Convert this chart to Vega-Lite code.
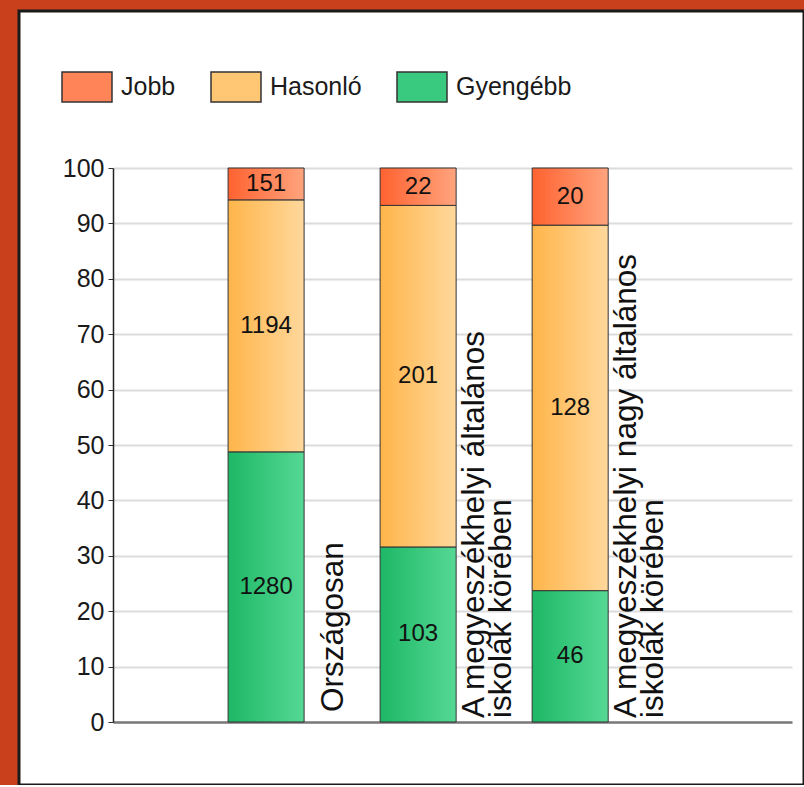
{
  "$schema": "https://vega.github.io/schema/vega-lite/v6.json",
  "autosize": "none",
  "padding": {"left": 19, "top": 11, "right": 0, "bottom": 0},
  "width": 785,
  "height": 774,
  "background": "#C9401C",
  "config": {
    "view": {"fill": "white", "stroke": "#1a1a1a", "strokeWidth": 3},
    "font": "Liberation Sans"
  },
  "data": {
    "values": [
      {"cat": "Országosan", "s": "Gyengébb", "n": 1280},
      {"cat": "Országosan", "s": "Hasonló", "n": 1194},
      {"cat": "Országosan", "s": "Jobb", "n": 151},
      {"cat": "A megyeszékhelyi általános\niskolák körében", "s": "Gyengébb", "n": 103},
      {"cat": "A megyeszékhelyi általános\niskolák körében", "s": "Hasonló", "n": 201},
      {"cat": "A megyeszékhelyi általános\niskolák körében", "s": "Jobb", "n": 22},
      {"cat": "A megyeszékhelyi nagy általános\niskolák körében", "s": "Gyengébb", "n": 46},
      {"cat": "A megyeszékhelyi nagy általános\niskolák körében", "s": "Hasonló", "n": 128},
      {"cat": "A megyeszékhelyi nagy általános\niskolák körében", "s": "Jobb", "n": 20}
    ]
  },
  "encoding": {
    "x": {
      "field": "cat", "type": "nominal", "sort": null,
      "scale": {"type": "band", "range": [94, 773], "paddingInner": 0.5, "paddingOuter": 0.983, "align": 0.385},
      "axis": null
    }
  },
  "layer": [
    {
      "mark": {"type": "bar", "stroke": "#333333", "strokeWidth": 1},
      "encoding": {
        "y": {
          "field": "n", "type": "quantitative", "stack": "normalize",
          "scale": {"domain": [0, 1], "range": [711, 157], "nice": false},
          "axis": {
            "title": null,
            "offset": -94,
            "values": [0, 0.1, 0.2, 0.3, 0.4, 0.5, 0.6, 0.7, 0.8, 0.9, 1],
            "labelExpr": "format(round(datum.value*100),'d')",
            "labelFont": "Liberation Sans",
            "labelFontSize": 25,
            "labelColor": "#1a1a1a",
            "labelPadding": 4,
            "tickSize": 5,
            "tickColor": "#333333",
            "domainColor": "#222222",
            "domainWidth": 1.5,
            "grid": true,
            "gridColor": {"condition": {"test": "datum.value === 0", "value": "#777777"}, "value": "#dcdcdc"},
            "gridWidth": {"condition": {"test": "datum.value === 0", "value": 2.5}, "value": 2}
          }
        },
        "order": {"field": "s", "sort": "ascending"},
        "color": {
          "field": "s", "type": "nominal",
          "scale": {"domain": ["Jobb", "Hasonló", "Gyengébb"], "range": ["#FF8458", "#FFC774", "#3ACA7F"]},
          "condition": [
            {"test": "datum.s === 'Jobb'", "value": {"gradient": "linear", "x1": 0, "y1": 0, "x2": 1, "y2": 0, "stops": [{"offset": 0, "color": "#FF6230"}, {"offset": 1, "color": "#FFA47E"}]}},
            {"test": "datum.s === 'Hasonló'", "value": {"gradient": "linear", "x1": 0, "y1": 0, "x2": 1, "y2": 0, "stops": [{"offset": 0, "color": "#FFB54A"}, {"offset": 1, "color": "#FFD89C"}]}},
            {"test": "datum.s === 'Gyengébb'", "value": {"gradient": "linear", "x1": 0, "y1": 0, "x2": 1, "y2": 0, "stops": [{"offset": 0, "color": "#1DB866"}, {"offset": 1, "color": "#55D894"}]}}
          ],
          "legend": {
            "title": null,
            "orient": "none",
            "legendX": 42,
            "legendY": 50,
            "direction": "horizontal",
            "symbolType": "M-1,-0.6H1V0.6H-1Z",
            "symbolSize": 2500,
            "symbolOpacity": 1,
            "labelFont": "Liberation Sans",
            "labelFontSize": 25,
            "labelColor": "#1a1a1a",
            "labelOffset": 8,
            "columnPadding": 32,
            "labelLimit": 300,
            "encode": {
              "symbols": {
                "stroke": {"value": "#555555"},
                "strokeWidth": {"value": 1.5}
              }
            }
          }
        }
      }
    },
    {
      "mark": {"type": "text", "font": "Liberation Sans", "fontSize": 24, "color": "#111111", "baseline": "middle"},
      "encoding": {
        "y": {"field": "n", "type": "quantitative", "stack": "normalize", "bandPosition": 0.5},
        "detail": {"field": "s"},
        "order": {"field": "s", "sort": "ascending"},
        "text": {"field": "n", "type": "quantitative"}
      }
    },
    {
      "transform": [{"filter": "datum.s === 'Gyengébb' && datum.cat === 'Országosan'"}],
      "mark": {"type": "text", "font": "Liberation Sans", "fontSize": 31.5, "color": "#111111", "angle": 270, "align": "left", "baseline": "middle", "dx": 10, "dy": 30},
      "encoding": {
        "x": {"field": "cat", "type": "nominal", "sort": null, "bandPosition": 1},
        "y": {"datum": 0},
        "text": {"field": "cat"}
      }
    },
    {
      "transform": [{"filter": "datum.s === 'Gyengébb' && datum.cat !== 'Országosan'"}],
      "mark": {"type": "text", "font": "Liberation Sans", "fontSize": 31.5, "lineHeight": 27, "color": "#111111", "angle": 270, "align": "left", "baseline": "middle", "lineBreak": "\n", "dx": 4, "dy": 19},
      "encoding": {
        "x": {"field": "cat", "type": "nominal", "sort": null, "bandPosition": 1},
        "y": {"datum": 0},
        "text": {"field": "cat"}
      }
    }
  ]
}
